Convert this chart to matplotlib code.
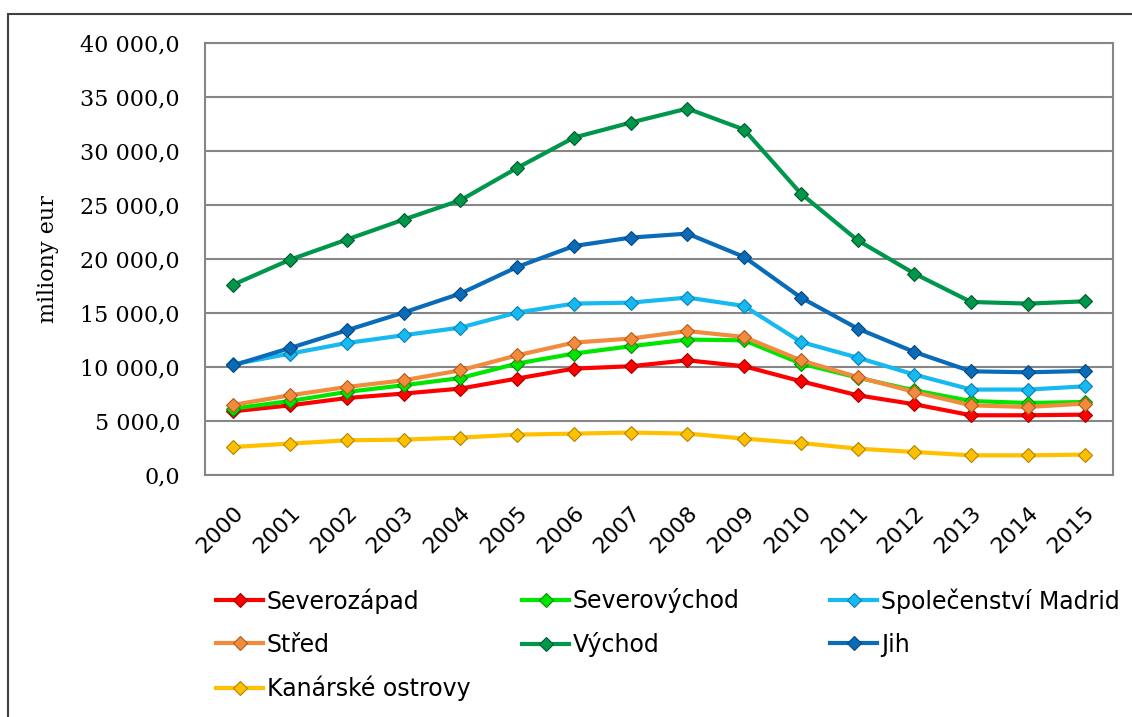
import matplotlib
matplotlib.use("Agg")
import matplotlib.pyplot as plt
from matplotlib.patches import Rectangle
from matplotlib.ticker import FuncFormatter, MultipleLocator

years = [str(y) for y in range(2000, 2016)]

severozapad = [5900, 6450, 7130, 7540, 8000, 8930, 9850, 10070, 10620, 10070, 8680, 7380, 6550, 5530, 5530, 5590]
severovychod = [6150, 6850, 7690, 8310, 8980, 10320, 11240, 11920, 12540, 12470, 10320, 9020, 7840, 6850, 6670, 6760]
madrid = [10250, 11240, 12220, 12940, 13650, 15040, 15870, 15960, 16430, 15650, 12320, 10870, 9300, 7910, 7910, 8210]
stred = [6500, 7380, 8150, 8770, 9690, 11080, 12260, 12630, 13330, 12780, 10620, 9070, 7690, 6450, 6300, 6610]
vychod = [17630, 19940, 21800, 23650, 25440, 28430, 31240, 32630, 33930, 31980, 26060, 21730, 18650, 16020, 15870, 16080]
jih = [10160, 11760, 13400, 15040, 16800, 19260, 21200, 21980, 22350, 20190, 16430, 13560, 11390, 9600, 9510, 9630]
kanarske = [2590, 2910, 3210, 3280, 3460, 3740, 3830, 3930, 3830, 3370, 2960, 2440, 2130, 1820, 1820, 1890]

labels = ["Severozápad", "Severovýchod", "Společenství Madrid", "Střed", "Východ", "Jih", "Kanárské ostrovy"]
series = [severozapad, severovychod, madrid, stred, vychod, jih, kanarske]
colors = ["#FF0000", "#00E600", "#16B9F0", "#F38B3F", "#00964B", "#0A6BB8", "#FFC000"]
edges = ["#A00000", "#009000", "#0A80B0", "#B05A18", "#005A2C", "#06467A", "#B08400"]

W, H = 1132, 717
fig = plt.figure(figsize=(W / 100, H / 100), dpi=100)
fig.patch.set_facecolor("white")

ax = fig.add_axes([205 / W, 1 - 475 / H, (1113 - 205) / W, (475 - 43) / H])
x = list(range(len(years)))

handles = []
for s, lab, c, e in zip(series, labels, colors, edges):
    h, = ax.plot(x, s, color=c, lw=3, marker="D", ms=7.5, mfc=c, mec=e, mew=0.8,
                 label=lab, solid_joinstyle="round")
    handles.append(h)

ax.set_xlim(-0.5, len(years) - 0.5)
ax.set_ylim(0, 40000)
ax.yaxis.set_major_locator(MultipleLocator(5000))


def fmt(v, pos):
    return f"{v:,.1f}".replace(",", " ").replace(".", ",")


ax.yaxis.set_major_formatter(FuncFormatter(fmt))
ax.grid(axis="y", color="#868686", lw=1.5)
ax.set_axisbelow(True)
for sp in ax.spines.values():
    sp.set_color("#868686")
    sp.set_linewidth(1.5)

ax.set_xticks(x)
ax.set_xticklabels(years, rotation=45, ha="right", va="top", rotation_mode="anchor",
                   fontsize=16, family="DejaVu Sans")
ax.tick_params(axis="x", length=0, pad=20)
ax.tick_params(axis="y", length=0, pad=18, labelsize=16)
for t in ax.get_yticklabels():
    t.set_family("DejaVu Serif")

ax.set_ylabel("miliony eur", fontsize=16, family="DejaVu Serif", labelpad=15)

# legend: three columns with fixed positions, filled row-wise
col_x = [216, 522, 830]
columns = [[0, 3, 6], [1, 4], [2, 5]]
for cx, idxs in zip(col_x, columns):
    lg = fig.legend(handles=[handles[i] for i in idxs], loc="upper left",
                    bbox_to_anchor=(cx / W, 1 - 588 / H), ncol=1, frameon=False,
                    prop={"family": "DejaVu Sans", "size": 17},
                    handlelength=2.0, handletextpad=0.15, labelspacing=0.81,
                    borderpad=0, borderaxespad=0)

# outer border (top and left visible)
fig.add_artist(Rectangle((8 / W, -0.5), 2.0, 1.5 - 14 / H, transform=fig.transFigure,
                         fill=False, ec="#404040", lw=1.5))

fig.savefig("out.png", dpi=100)
